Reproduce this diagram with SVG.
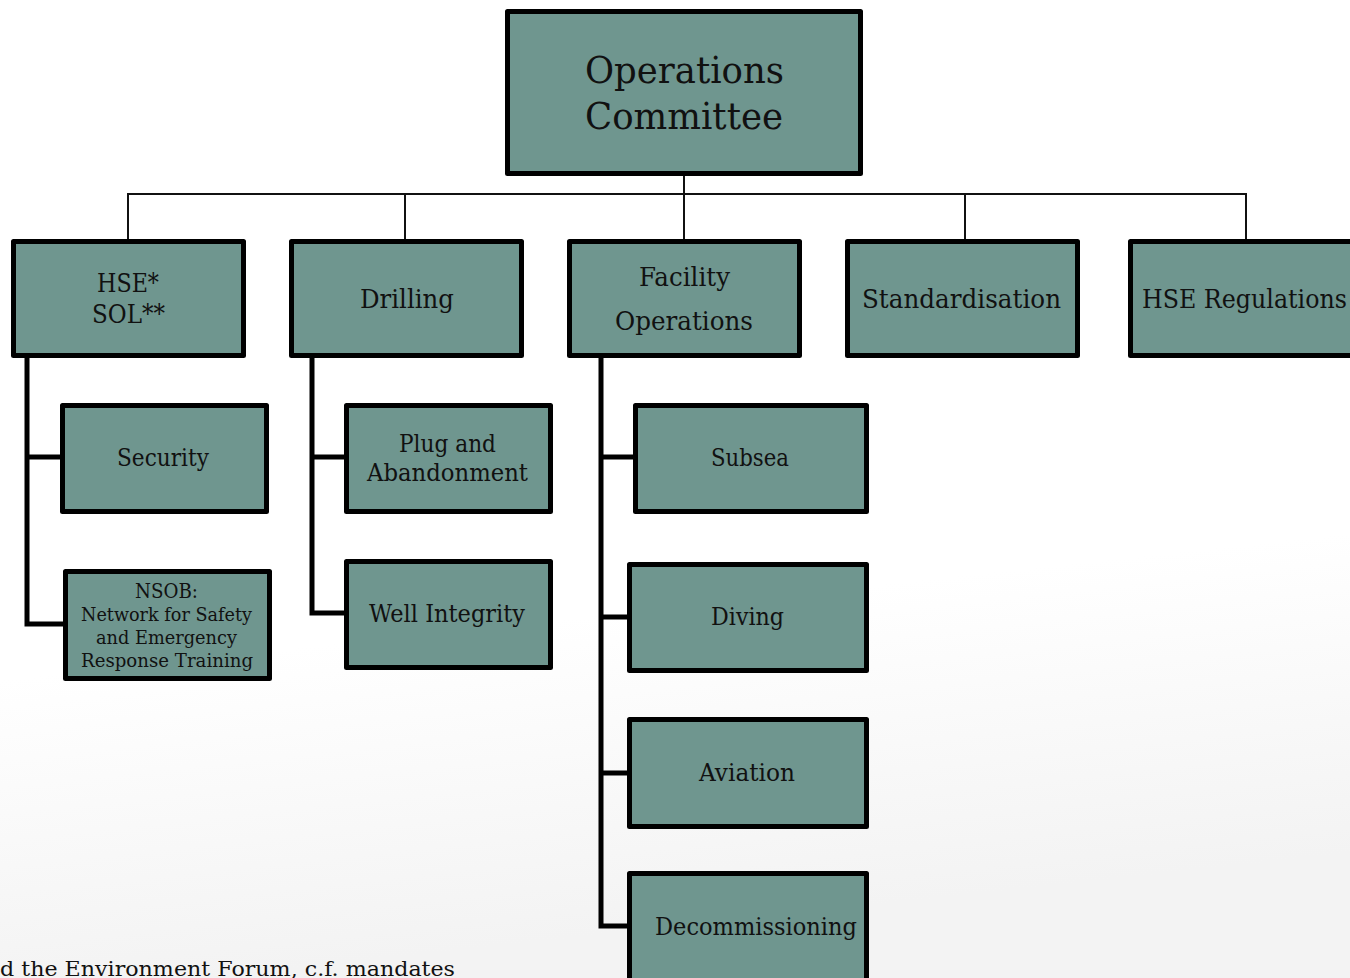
<svg xmlns="http://www.w3.org/2000/svg" width="1350" height="978" viewBox="0 0 1350 978">
<defs>
<linearGradient id="bg" x1="0" y1="0" x2="0.15" y2="1">
<stop offset="0" stop-color="#ffffff"/>
<stop offset="0.68" stop-color="#ffffff"/>
<stop offset="1" stop-color="#f3f3f3"/>
</linearGradient>
<style>
.box{fill:#6f968f;stroke:#000;stroke-width:5;stroke-linejoin:round}
.t{font-family:"DejaVu Serif","Liberation Serif",serif;fill:#111}
.thin{fill:none;stroke:#111;stroke-width:2}
.thick{fill:none;stroke:#000;stroke-width:5}
</style>
</defs>
<rect x="0" y="0" width="1350" height="978" fill="url(#bg)"/>
<g id="connectors">
<path class="thin" d="M684,175 V194 M128,240 V194 H1246 V240 M405,194 V240 M684,194 V240 M965,194 V240"/>
<path class="thick" d="M27,357 V624 H63 M27,457 H60"/>
<path class="thick" d="M312,357 V613 H344 M312,457 H344"/>
<path class="thick" d="M601,357 V926 H627 M601,457 H633 M601,617 H627 M601,773 H627"/>
</g>
<g id="operations-committee">
<rect class="box" x="507.5" y="11.5" width="353" height="162"/>
<text class="t" x="585" y="83" font-size="38" textLength="199" lengthAdjust="spacingAndGlyphs">Operations</text>
<text class="t" x="585" y="129" font-size="38" textLength="198" lengthAdjust="spacingAndGlyphs">Committee</text>
</g>
<g id="hse-sol">
<rect class="box" x="13.5" y="241.5" width="230" height="114"/>
<text class="t" x="97" y="292" font-size="26" textLength="62" lengthAdjust="spacingAndGlyphs">HSE*</text>
<text class="t" x="92" y="323" font-size="26" textLength="73" lengthAdjust="spacingAndGlyphs">SOL**</text>
</g>
<g id="drilling">
<rect class="box" x="291.5" y="241.5" width="230" height="114"/>
<text class="t" x="360" y="308" font-size="26" textLength="94" lengthAdjust="spacingAndGlyphs">Drilling</text>
</g>
<g id="facility-operations">
<rect class="box" x="569.5" y="241.5" width="230" height="114"/>
<text class="t" x="639" y="286" font-size="26" textLength="91" lengthAdjust="spacingAndGlyphs">Facility</text>
<text class="t" x="615" y="330" font-size="26" textLength="138" lengthAdjust="spacingAndGlyphs">Operations</text>
</g>
<g id="standardisation">
<rect class="box" x="847.5" y="241.5" width="230" height="114"/>
<text class="t" x="862" y="308" font-size="26" textLength="199" lengthAdjust="spacingAndGlyphs">Standardisation</text>
</g>
<g id="hse-regulations">
<rect class="box" x="1130.5" y="241.5" width="230" height="114"/>
<text class="t" x="1142" y="308" font-size="26" textLength="205" lengthAdjust="spacingAndGlyphs">HSE Regulations</text>
</g>
<g id="security">
<rect class="box" x="62.5" y="405.5" width="204" height="106"/>
<text class="t" x="117" y="466" font-size="24" textLength="92" lengthAdjust="spacingAndGlyphs">Security</text>
</g>
<g id="nsob">
<rect class="box" x="65.5" y="571.5" width="204" height="107"/>
<text class="t" x="135" y="598" font-size="21" textLength="63" lengthAdjust="spacingAndGlyphs">NSOB:</text>
<text class="t" x="81" y="621" font-size="19" textLength="171" lengthAdjust="spacingAndGlyphs">Network for Safety</text>
<text class="t" x="96" y="644" font-size="19" textLength="141" lengthAdjust="spacingAndGlyphs">and Emergency</text>
<text class="t" x="81" y="667" font-size="19" textLength="172" lengthAdjust="spacingAndGlyphs">Response Training</text>
</g>
<g id="plug-and-abandonment">
<rect class="box" x="346.5" y="405.5" width="204" height="106"/>
<text class="t" x="399" y="452" font-size="24" textLength="97" lengthAdjust="spacingAndGlyphs">Plug and</text>
<text class="t" x="367" y="481" font-size="24" textLength="161" lengthAdjust="spacingAndGlyphs">Abandonment</text>
</g>
<g id="well-integrity">
<rect class="box" x="346.5" y="561.5" width="204" height="106"/>
<text class="t" x="369" y="622" font-size="24" textLength="156" lengthAdjust="spacingAndGlyphs">Well Integrity</text>
</g>
<g id="subsea">
<rect class="box" x="635.5" y="405.5" width="231" height="106"/>
<text class="t" x="711" y="466" font-size="24" textLength="78" lengthAdjust="spacingAndGlyphs">Subsea</text>
</g>
<g id="diving">
<rect class="box" x="629.5" y="564.5" width="237" height="106"/>
<text class="t" x="711" y="625" font-size="24" textLength="73" lengthAdjust="spacingAndGlyphs">Diving</text>
</g>
<g id="aviation">
<rect class="box" x="629.5" y="719.5" width="237" height="107"/>
<text class="t" x="699" y="781" font-size="24" textLength="96" lengthAdjust="spacingAndGlyphs">Aviation</text>
</g>
<g id="decommissioning">
<rect class="box" x="629.5" y="873.5" width="237" height="120"/>
<text class="t" x="655" y="935" font-size="24" textLength="202" lengthAdjust="spacingAndGlyphs">Decommissioning</text>
</g>
<text class="t" x="0" y="976" font-size="21" textLength="455" lengthAdjust="spacingAndGlyphs">d the Environment Forum, c.f. mandates</text>
</svg>
